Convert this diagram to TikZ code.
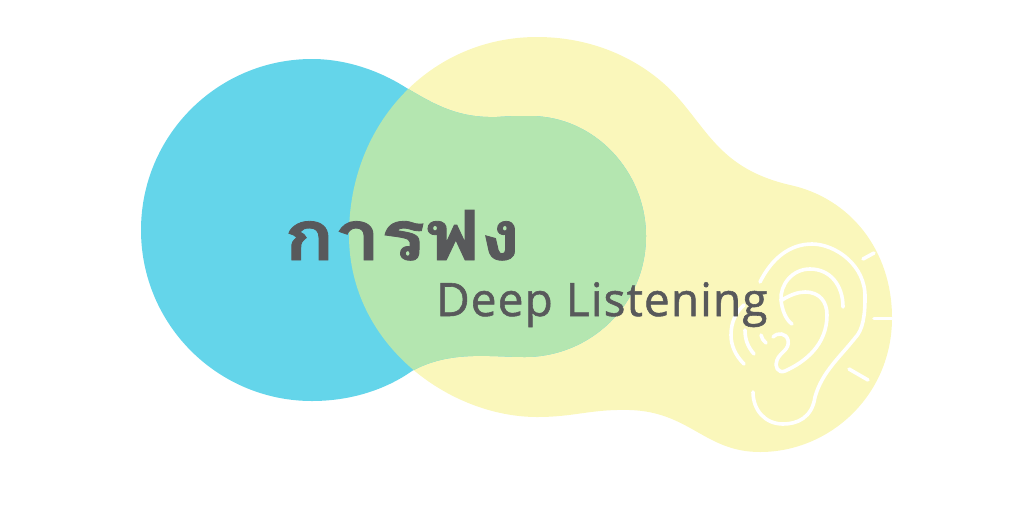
\documentclass[tikz,border=0pt]{standalone}
\usepackage{fontspec}
\usepackage{graphicx}
\setmainfont{Open Sans}
\newfontfamily\thaifont[Script=Thai,BoldFeatures={FakeBold=1.2}]{Loma}
\newfontfamily\engfont[FakeBold=1.2,LetterSpace=2.4]{Open Sans}
\definecolor{blueblob}{HTML}{64D5EA}
\definecolor{yellowblob}{HTML}{FAF7BB}
\definecolor{greenblob}{HTML}{B4E6B0}
\definecolor{ink}{HTML}{58595B}
\def\yellowpath{(349,235) .. controls (349,122) and (432,37) .. (537,37)
 .. controls (600,37) and (650,65) .. (680,100)
 .. controls (710,135) and (725,170) .. (790,185)
 .. controls (850,198) and (892,250) .. (892,318)
 .. controls (892,395) and (830,452) .. (760,452)
 .. controls (705,452) and (690,412) .. (630,410)
 .. controls (590,409) and (575,417) .. (537,417)
 .. controls (450,417) and (349,345) .. (349,235) -- cycle}
\def\bluepath{(141,230) .. controls (141,135) and (218,59) .. (312,59)
 .. controls (345,59) and (378,70) .. (405,87)
 .. controls (438,107) and (460,118) .. (497,117)
 .. controls (510,116) and (520,116) .. (530,116)
 .. controls (595,116) and (646,172) .. (646,236)
 .. controls (646,305) and (590,357) .. (525,357)
 .. controls (490,357) and (450,350) .. (412,371)
 .. controls (385,390) and (350,401) .. (312,401)
 .. controls (218,401) and (141,325) .. (141,230) -- cycle}
\tikzset{earline/.style={draw=white,line width=3.6pt,line cap=round,line join=round},
 label text/.style={inner sep=0pt,text=ink}}
\begin{document}
\begin{tikzpicture}[x=1pt,y=-1pt]
\useasboundingbox (0,0) rectangle (1024,512);
\fill[yellowblob] \yellowpath;
\fill[blueblob] \bluepath;
\begin{scope}
\clip \yellowpath;
\fill[greenblob] \bluepath;
\end{scope}
% ear
\draw[earline] (760,282) .. controls (772,258) and (790,244) .. (812,244)
 .. controls (835,244) and (866,265) .. (865,298)
 .. controls (865,315) and (863,330) .. (855,338)
 .. controls (840,357) and (822,372) .. (815,397)
 .. controls (812,418) and (797,424) .. (783,424)
 .. controls (765,424) and (753,410) .. (753,392);
\draw[earline] (843,307) .. controls (843,285) and (830,269) .. (810,269)
 .. controls (792,269) and (780,285) .. (781,300)
 .. controls (782,310) and (786,320) .. (792,324);
\draw[earline] (782,300) .. controls (790,295) and (798,292) .. (805,292)
 .. controls (820,292) and (827,302) .. (827,315)
 .. controls (827,345) and (805,362) .. (785,371)
 .. controls (778,374) and (774,366) .. (777,360)
 .. controls (780,352) and (790,350) .. (788,340)
 .. controls (786,333) and (778,332) .. (773,337);
\draw[earline] (744,364) .. controls (735,355) and (731,345) .. (731,335)
 .. controls (731,322) and (736,312) .. (744,305);
\draw[earline] (754,354) .. controls (748,347) and (745,340) .. (745,330);
\draw[earline] (766,343) .. controls (763,341) and (762,338) .. (761,335);
\draw[earline] (863,259) -- (874,253);
\draw[earline] (874,318.5) -- (892,318.5);
\draw[earline] (849,369) -- (868,380);
\node[label text,anchor=base west,font={\thaifont\bfseries\fontsize{69}{69}\selectfont}] (thai) at (284,260) {\scalebox{1.2}[1]{การฟง}};
\node[label text,anchor=base west,font={\engfont\fontsize{46}{46}\selectfont}] (eng) at (436,316) {Deep Listening};
\end{tikzpicture}
\end{document}
